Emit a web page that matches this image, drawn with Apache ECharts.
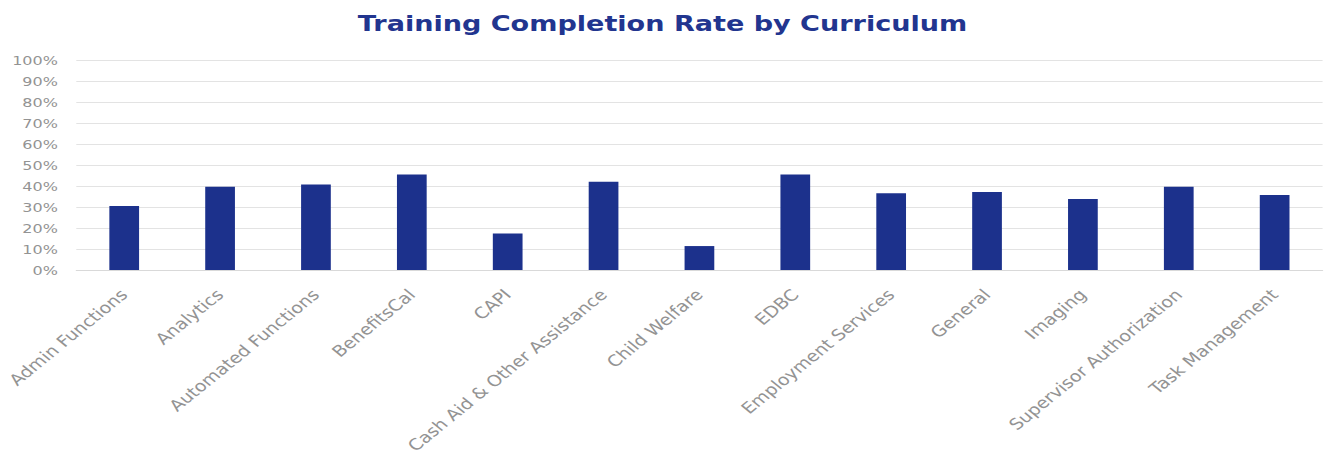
<!DOCTYPE html>
<html>
<head>
<meta charset="utf-8">
<title>Training Completion Rate by Curriculum</title>
<script src="https://cdn.jsdelivr.net/npm/echarts@6/dist/echarts.min.js"></script>
<style>
  html, body { margin: 0; padding: 0; background: #ffffff; overflow: hidden; }
  /* chart is laid out on a narrower canvas and widened to the page */
  #chart { width: 1077px; height: 457px; transform: scaleX(1.2303); transform-origin: 0 0; }
</style>
</head>
<body>
<div id="chart"></div>
<script>
// Curricula shown along the x axis
const curricula = [
  'Admin Functions', 'Analytics', 'Automated Functions', 'BenefitsCal', 'CAPI',
  'Cash Aid & Other Assistance', 'Child Welfare', 'EDBC', 'Employment Services',
  'General', 'Imaging', 'Supervisor Authorization', 'Task Management'
];

// Completion rate per curriculum, in percent
const completionRate = [30.5, 39.6, 40.7, 45.5, 17.4, 42.0, 11.4, 45.5, 36.5, 37.1, 33.8, 39.6, 35.7];

// Percent axis range and step
const rateMin = 0;
const rateMax = 100;
const rateStep = 10;

const chart = echarts.init(document.getElementById('chart'), null, { renderer: 'svg' });

chart.setOption({
  animation: false,
  title: {
    text: 'Training Completion Rate by Curriculum',
    left: 'center',
    top: 7,
    textStyle: {
      fontFamily: 'DejaVu Sans',
      fontWeight: 'bold',
      fontSize: 22,
      color: '#22358f'
    }
  },
  grid: { left: 62, right: 2, top: 60, bottom: 187, containLabel: false },
  xAxis: {
    type: 'category',
    data: curricula,
    axisLine: { lineStyle: { color: '#d9d9d9', width: 1 } },
    axisTick: { show: false },
    axisLabel: {
      interval: 0,
      rotate: 45,
      margin: 22,
      fontFamily: 'DejaVu Sans',
      fontSize: 15.5,
      color: '#939393'
    }
  },
  yAxis: {
    type: 'value',
    min: rateMin,
    max: rateMax,
    interval: rateStep,
    axisLine: { show: false },
    axisTick: { show: false },
    splitLine: { lineStyle: { color: '#e3e3e3', width: 1 } },
    axisLabel: {
      margin: 15,
      formatter: '{value}%',
      fontFamily: 'DejaVu Sans',
      fontSize: 13,
      color: '#939393'
    }
  },
  series: [{
    type: 'bar',
    data: completionRate,
    barWidth: '31%',
    itemStyle: { color: '#1c318c' }
  }]
});
</script>
</body>
</html>
